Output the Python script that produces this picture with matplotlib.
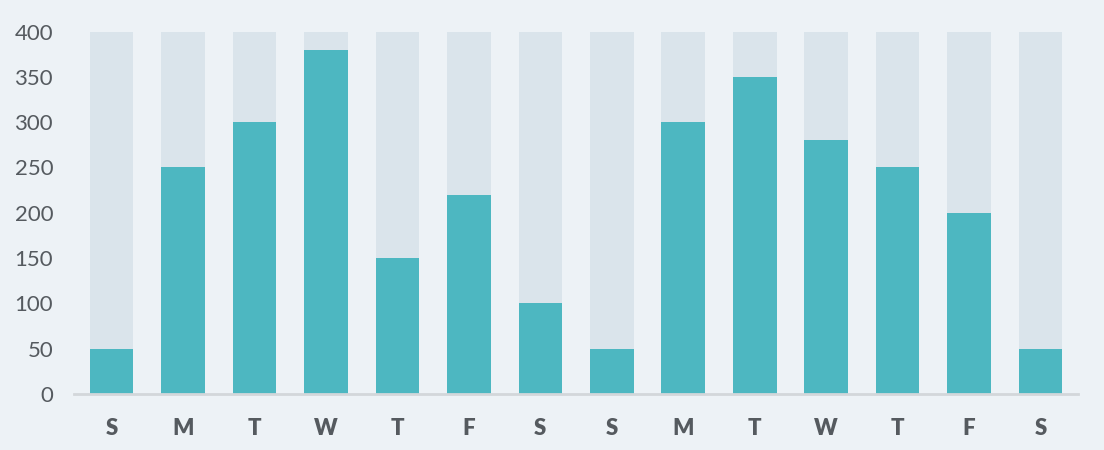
import matplotlib
matplotlib.use("Agg")
import matplotlib.pyplot as plt
import numpy as np

# data
days = ["S", "M", "T", "W", "T", "F", "S", "S", "M", "T", "W", "T", "F", "S"]
values = [50, 250, 300, 380, 150, 220, 100, 50, 300, 350, 280, 250, 200, 50]
max_value = [400] * len(days)
y_ticks = [0, 50, 100, 150, 200, 250, 300, 350, 400]

bg = "#edf2f6"
track = "#dae4eb"
teal = "#4db7c1"
text_col = "#555a5f"

plt.rcParams["font.family"] = ["Lato", "DejaVu Sans"]

fig = plt.figure(figsize=(11.04, 4.5), dpi=100, facecolor=bg)
ax = fig.add_axes([0.067, 0.1244, 0.9096, 0.8056], facecolor=bg)

x = np.arange(len(days))
ax.bar(x, max_value, width=0.61, color=track, zorder=1)
ax.bar(x, values, width=0.61, color=teal, zorder=2)

ax.set_xlim(-0.525, len(days) - 0.475)
ax.set_ylim(0, 400)
ax.set_yticks(y_ticks)
ax.set_xticks(x)
ax.set_xticklabels(days, fontsize=16, fontweight="heavy", color=text_col)
for lbl in ax.get_yticklabels():
    lbl.set_fontsize(16)
    lbl.set_color(text_col)

for s in ["top", "right", "left"]:
    ax.spines[s].set_visible(False)
ax.spines["bottom"].set_color("#d3d7da")
ax.spines["bottom"].set_linewidth(2)
ax.tick_params(axis="both", length=0)
ax.tick_params(axis="x", pad=17)
ax.tick_params(axis="y", pad=15)

fig.savefig("out.png", dpi=100, facecolor=bg)
